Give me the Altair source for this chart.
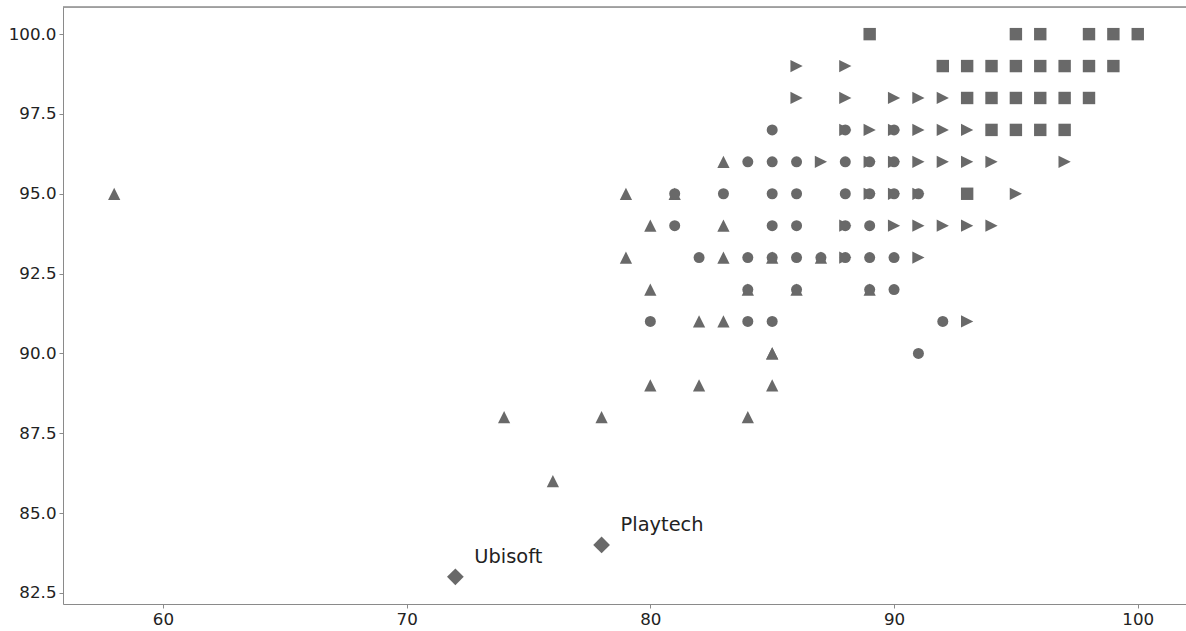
import altair as alt
import pandas as pd

# ---- data ----
tri_up_x = [58, 74, 76, 78, 79, 79, 80, 80, 80, 81, 82, 82, 83, 83, 83, 83, 84, 85, 85, 86, 87, 89, 84, 85, 85]
tri_up_y = [95, 88, 86, 88, 95, 93, 94, 92, 89, 95, 91, 89, 96, 94, 93, 91, 92, 93, 90, 92, 93, 92, 88, 89, 90]

circle_x = [85, 88, 90,
            84, 85, 86, 88, 89, 90,
            81, 83, 85, 86, 88, 89, 90, 91,
            81, 85, 86, 88, 89,
            82, 84, 85, 86, 87, 88, 89, 90,
            84, 86, 89, 90,
            80, 84, 85, 92,
            91]
circle_y = [97, 97, 97,
            96, 96, 96, 96, 96, 96,
            95, 95, 95, 95, 95, 95, 95, 95,
            94, 94, 94, 94, 94,
            93, 93, 93, 93, 93, 93, 93, 93,
            92, 92, 92, 92,
            91, 91, 91, 91,
            90]

tri_right_x = [86, 88,
               86, 88, 90, 91, 92,
               88, 89, 90, 91, 92, 93,
               87, 89, 90, 91, 92, 93, 94, 97,
               89, 90, 91, 95,
               88, 90, 91, 92, 93, 94,
               88, 91,
               93]
tri_right_y = [99, 99,
               98, 98, 98, 98, 98,
               97, 97, 97, 97, 97, 97,
               96, 96, 96, 96, 96, 96, 96, 96,
               95, 95, 95, 95,
               94, 94, 94, 94, 94, 94,
               93, 93,
               91]

square_x = [89, 95, 96, 98, 99, 100,
            92, 93, 94, 95, 96, 97, 98, 99,
            93, 94, 95, 96, 97, 98,
            94, 95, 96, 97,
            93]
square_y = [100, 100, 100, 100, 100, 100,
            99, 99, 99, 99, 99, 99, 99, 99,
            98, 98, 98, 98, 98, 98,
            97, 97, 97, 97,
            95]

diamond_names = ["Ubisoft", "Playtech"]
diamond_x = [72, 78]
diamond_y = [83, 84]

x_ticks = [60, 70, 80, 90, 100]
y_ticks = [82.5, 85.0, 87.5, 90.0, 92.5, 95.0, 97.5, 100.0]

FONT = "DejaVu Sans"
GRAY = "#696969"

xs = alt.Scale(domain=[55.9, 101.98], nice=False, zero=False)
ys = alt.Scale(domain=[82.15, 100.85], nice=False, zero=False)

axis_common = dict(grid=False, domainColor="#8a8a8a", domainWidth=1,
                   tickColor="#8a8a8a", tickSize=4, labelFont=FONT,
                   labelFontSize=16.7, labelColor="#222222", title=None)

X = alt.X("x:Q", scale=xs, axis=alt.Axis(values=x_ticks, format="d", labelPadding=3, **axis_common))
Y = alt.Y("y:Q", scale=ys, axis=alt.Axis(values=y_ticks, format=".1f", labelPadding=3, **axis_common))


def layer(xv, yv, shape, size):
    d = pd.DataFrame({"x": xv, "y": yv})
    return alt.Chart(d).mark_point(filled=True, opacity=1, color=GRAY, strokeWidth=0,
                                   shape=shape, size=size).encode(x=X, y=Y)


layers = [
    layer(tri_up_x, tri_up_y, "M0,-1L1,1L-1,1Z", 150),
    layer(circle_x, circle_y, "circle", 121),
    layer(tri_right_x, tri_right_y, "M1,0L-1,-1L-1,1Z", 150),
    layer(square_x, square_y, "square", 154),
    layer(diamond_x, diamond_y, "M0,-1L1,0L0,1L-1,0Z", 280),
]

labels = pd.DataFrame({"x": diamond_x, "y": diamond_y, "name": diamond_names})
texts = alt.Chart(labels).mark_text(align="left", baseline="alphabetic", dx=19, dy=-14,
                                   font=FONT, fontSize=19.4, color="#222222").encode(
    x=alt.X("x:Q", scale=xs),
    y=alt.Y("y:Q", scale=ys),
    text="name:N",
)

top = alt.Chart(labels).mark_rule(color="#8a8a8a", strokeWidth=1).encode(
    x=alt.value(0), x2=alt.value(1123), y=alt.value(0)
)

chart = alt.layer(*layers, texts, top).properties(
    width=1123, height=597,
    autosize=alt.AutoSizeParams(type="none"),
    padding={"left": 63, "top": 7, "right": 0, "bottom": 27},
).configure_view(stroke=None).configure(background="white")

chart.save("out.html", embed_options={"renderer": "svg", "actions": False})
